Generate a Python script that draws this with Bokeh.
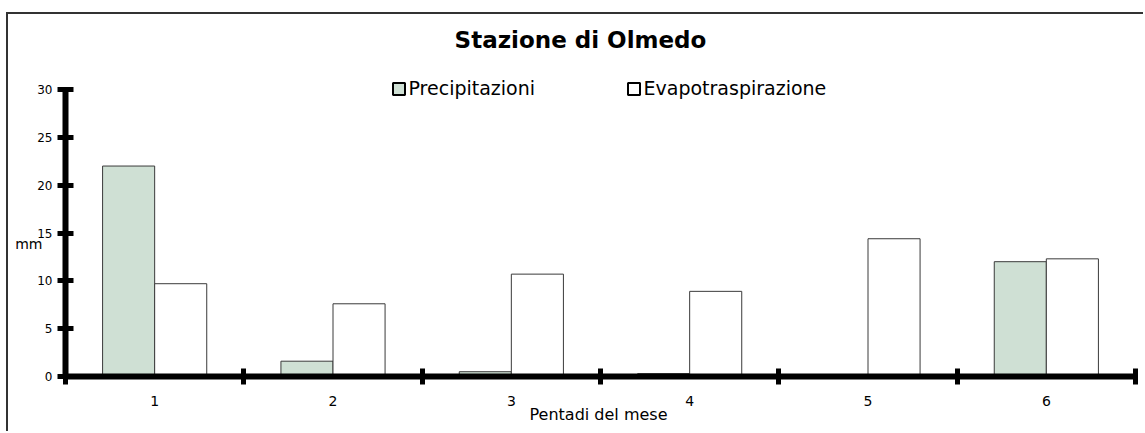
from bokeh.plotting import figure
from bokeh.models import (Range1d, FixedTicker, LinearAxis, Label, Legend, LegendItem,
                          ColumnDataSource)
from bokeh.transform import dodge
from bokeh.embed import file_html
from bokeh.resources import INLINE

# ---------------- data ----------------
title_text = "Stazione di Olmedo"
categories = [1, 2, 3, 4, 5, 6]
category_labels = ["1", "2", "3", "4", "5", "6"]
precipitazioni = [22.0, 1.6, 0.5, 0.3, 0.0, 12.0]
evapotraspirazione = [9.7, 7.6, 10.7, 8.9, 14.4, 12.3]
series_names = ["Precipitazioni", "Evapotraspirazione"]
y_ticks = [0, 5, 10, 15, 20, 25, 30]
x_title = "Pentadi del mese"
y_title = "mm"

# ---------------- layout (canvas pixels) ----------------
W, H = 1137, 419
FONT = "DejaVu Sans"
GREEN = "#cfe0d4"
EDGE = "#3a3a3a"
BAR_W = 0.292
OFF = BAR_W / 2

y_min, y_max = y_ticks[0], y_ticks[-1]
x_min, x_max = categories[0] - 0.5, categories[-1] + 0.5
# pixel positions of the plot box on the canvas
PX_LEFT, PX_RIGHT, PX_TOP, PX_BOTTOM = 57, 1127, 75, 362
sx = (PX_RIGHT - PX_LEFT) / (x_max - x_min)
sy = (PX_BOTTOM - PX_TOP) / (y_max - y_min)
x_range = Range1d(x_min - PX_LEFT / sx, x_max + (W - PX_RIGHT) / sx)
y_range = Range1d(y_min - (H - PX_BOTTOM) / sy, y_max + PX_TOP / sy)

src = ColumnDataSource(dict(x=categories, p=precipitazioni, e=evapotraspirazione))

p = figure(width=W, height=H, x_range=x_range, y_range=y_range,
           x_axis_type=None, y_axis_type=None,
           output_backend="svg", toolbar_location=None,
           min_border_left=0, min_border_right=0, min_border_top=0, min_border_bottom=0)
p.grid.visible = False
p.outline_line_color = None
p.background_fill_color = "white"
p.border_fill_color = "white"
p.styles = {"margin-left": "6px", "margin-top": "12px",
            "border-left": "2px solid #333333", "border-top": "2px solid #333333"}

p.vbar(x=dodge("x", -OFF, range=p.x_range), top="p", width=BAR_W, source=src,
       fill_color=GREEN, line_color=EDGE, line_width=1)
p.vbar(x=dodge("x", OFF, range=p.x_range), top="e", width=BAR_W, source=src,
       fill_color="white", line_color=EDGE, line_width=1)

# legend keys: same data on an off-screen range, so only the key (thick outline) shows
p.extra_y_ranges = {"key": Range1d(1000, 2000)}
l1 = p.vbar(x=dodge("x", -OFF, range=p.x_range), top="p", width=BAR_W, source=src,
            y_range_name="key", fill_color=GREEN, line_color="black", line_width=2)
l2 = p.vbar(x=dodge("x", OFF, range=p.x_range), top="e", width=BAR_W, source=src,
            y_range_name="key", fill_color="white", line_color="black", line_width=2)

def make_legend(label, rend, loc):
    return Legend(items=[LegendItem(label=label, renderers=[rend])], location=loc,
                  orientation="horizontal", glyph_width=15, glyph_height=15,
                  label_standoff=3, padding=0, margin=0, spacing=0,
                  border_line_color=None, background_fill_alpha=0,
                  label_text_font=FONT, label_text_font_size="19px", label_height=15,
                  label_text_color="black")

p.add_layout(make_legend(series_names[0], l1, (382.5, 334)))
p.add_layout(make_legend(series_names[1], l2, (617.5, 334)))

# y axis
yaxis = LinearAxis(ticker=FixedTicker(ticks=y_ticks), fixed_location=x_min, bounds=(y_min, y_max),
                   axis_line_width=6, axis_line_color="black",
                   major_tick_in=8, major_tick_out=8, major_tick_line_width=5,
                   minor_tick_line_color=None, major_label_standoff=5,
                   major_label_text_font=FONT, major_label_text_font_size="12px",
                   major_label_text_color="black")
p.add_layout(yaxis, "left")

# x axis: tick marks at category boundaries
bounds = [c - 0.5 for c in categories] + [categories[-1] + 0.5]
xaxis1 = LinearAxis(ticker=FixedTicker(ticks=bounds), fixed_location=y_min, bounds=(x_min, x_max),
                    axis_line_width=6, axis_line_color="black",
                    major_tick_in=8, major_tick_out=8, major_tick_line_width=5,
                    minor_tick_line_color=None,
                    major_label_overrides={b: "" for b in bounds},
                    major_label_text_font_size="1px", major_label_standoff=0)
p.add_layout(xaxis1, "below")

# x axis: category labels at centres
xaxis2 = LinearAxis(ticker=FixedTicker(ticks=categories), fixed_location=y_min,
                    axis_line_color=None,
                    major_tick_line_color=None, major_tick_in=0, major_tick_out=0,
                    minor_tick_line_color=None,
                    major_label_overrides=dict(zip(categories, category_labels)),
                    major_label_standoff=19, major_label_text_font=FONT,
                    major_label_text_font_size="14px", major_label_text_color="black")
p.add_layout(xaxis2, "below")

# texts (screen units: from the canvas's bottom-left corner)
p.add_layout(Label(x=572, y=H - 25, x_units="screen", y_units="screen", text=title_text,
                   text_align="center", text_baseline="alphabetic", text_font=FONT,
                   text_font_size="23px", text_font_style="bold", text_color="black"))
p.add_layout(Label(x=590, y=H - 400, x_units="screen", y_units="screen", text=x_title,
                   text_align="center", text_baseline="alphabetic", text_font=FONT,
                   text_font_size="16px", text_color="black"))
p.add_layout(Label(x=34, y=H - 229, x_units="screen", y_units="screen", text=y_title,
                   text_align="right", text_baseline="alphabetic", text_font=FONT,
                   text_font_size="14px", text_color="black"))

open("out.html", "w").write(file_html(p, INLINE))
